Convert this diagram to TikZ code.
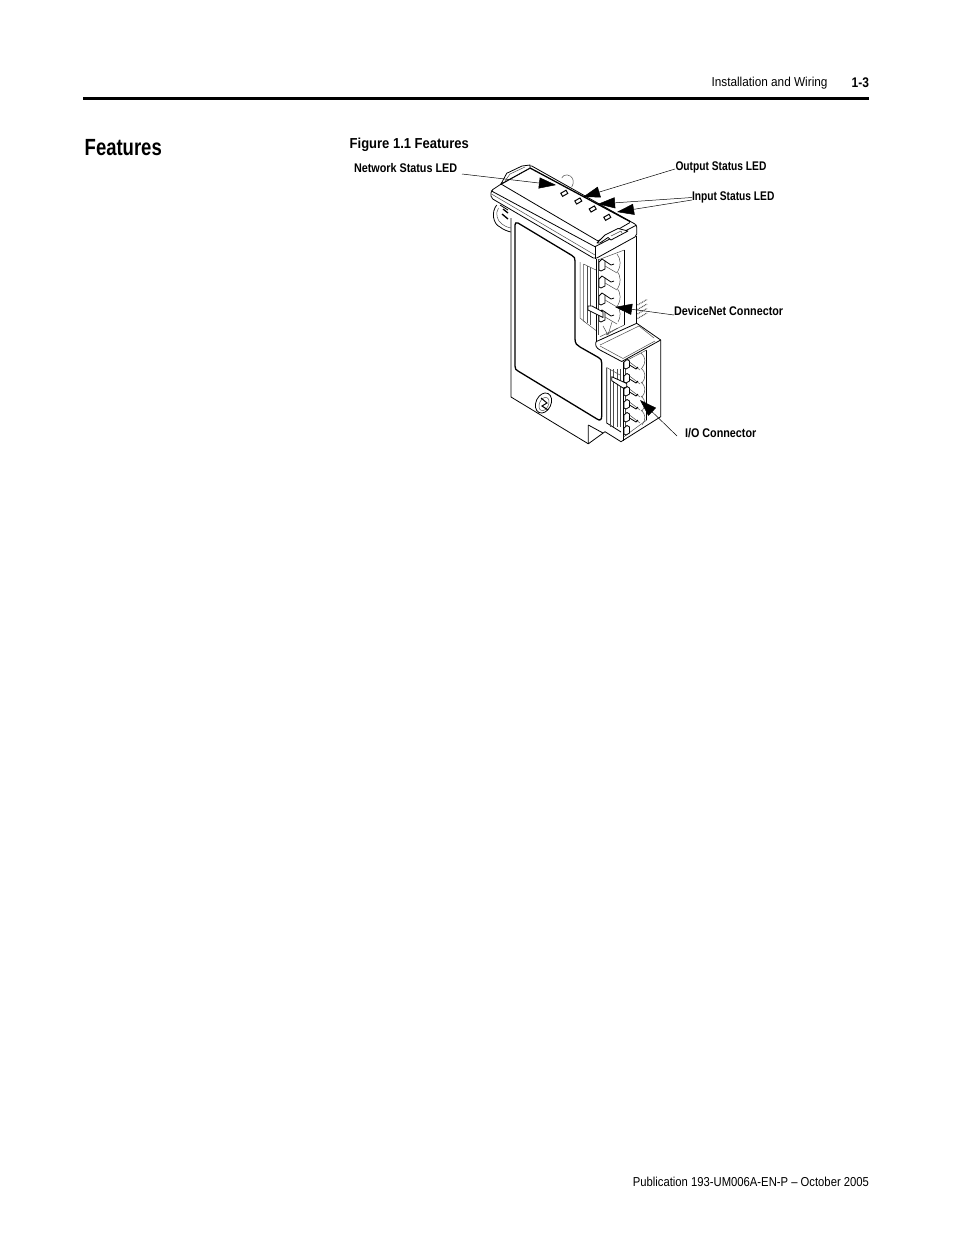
\documentclass[tikz,border=0pt]{standalone}
\usepackage{fontspec}
\setmainfont{Liberation Sans}
\newfontfamily\hdfont[FakeStretch=0.91]{Liberation Sans}
\newfontfamily\pubfont[FakeStretch=0.87]{Liberation Sans}
\newfontfamily\labfont[FakeStretch=0.86]{Liberation Sans}
\newfontfamily\labnarrow[FakeStretch=0.815]{Liberation Sans}
\newfontfamily\figfont[FakeStretch=0.90]{Liberation Sans}
\newfontfamily\ttlfont[FakeStretch=0.79]{Liberation Sans}
\usetikzlibrary{arrows.meta}
\tikzset{
 txt/.style={inner sep=0pt,outer sep=0pt,font=\hdfont\fontsize{13}{15}\selectfont,text=black},
 lab/.style={inner sep=0pt,outer sep=0pt,font=\labfont\bfseries\fontsize{12.6}{14}\selectfont,text=black},
 labn/.style={inner sep=0pt,outer sep=0pt,font=\labnarrow\bfseries\fontsize{12.6}{14}\selectfont,text=black},
 leader/.style={line width=0.5pt,black},
 tipa/.style={-{Triangle[length=17bp,width=11bp]}},
 thn/.style={line width=0.5pt,black!70,line join=round},
 med/.style={line width=0.8pt,black,line join=round},
 thk/.style={line width=1.3pt,black,line join=round},
}
\begin{document}
\begin{tikzpicture}[x=1bp,y=-1bp]
\useasboundingbox (0,0) rectangle (954,1235);
\fill[white] (0,0) rectangle (954,1235);
% header
\node[txt,anchor=east] (hd) at (827.5,83) {Installation and Wiring};
\node[lab,anchor=east,font=\labfont\bfseries\fontsize{14}{15}\selectfont] (pg) at (869,83) {1-3};
\draw[line width=3bp] (83,98.5) -- (869,98.5);
\node[inner sep=0pt,anchor=west,font=\ttlfont\bfseries\fontsize{23.5}{26}\selectfont] (ft) at (84.5,148) {Features};
\node[inner sep=0pt,anchor=west,font=\figfont\bfseries\fontsize{14.5}{16}\selectfont] (fig) at (349.5,144.5) {Figure 1.1 Features};
\node[txt,anchor=east,font=\pubfont\fontsize{13}{15}\selectfont] (pub) at (869,1182) {Publication 193-UM006A-EN-P – October 2005};
% back knob and left ring
\draw[thn] (561.7,178) .. controls (563,174) and (571,173) .. (573,180) .. controls (573.5,183) and (573,185) .. (571.7,187);
\draw[med] (496.7,205) .. controls (491,212) and (493,224) .. (500,227) .. controls (503,229.5) and (507,231) .. (510.7,232);
\draw[thn] (498.5,208) .. controls (495,213) and (497,221) .. (502,224) .. controls (504,226) and (507,227) .. (510.7,228);
\draw[thk] (503,209) -- (508,213);
\draw[thk] (502,214) -- (508,219);
\draw[med] (500,205) -- (508,210);
% lid
\draw[med,fill=white,rounded corners=2pt] (491,190.7) -- (530,165) -- (636.7,225) -- (636.7,236) -- (595,259) -- (491,198) -- cycle;
\draw[med] (491,190.7) -- (595,246.7) -- (636.7,225);
\draw[thn] (491.5,194) -- (595,255);
\draw[med] (595,246.7) -- (595,259);
\draw[thk] (501,184) -- (530,168) -- (630,221.5);
\draw[med] (501,184) -- (598,241);
\draw[med] (598,241) -- (630,222.5);
% latches
\draw[med,fill=white] (501,184) -- (506.7,173.3) -- (522,166) -- (530,165) -- (530,168) -- cycle;
\draw[thn] (505,181) -- (510,174) -- (525,167);
\draw[med,fill=white] (597,243) -- (605,235) -- (618,228.5) -- (628,231) -- (611,240) -- (608,237.5) -- (600,243) -- cycle;
\draw[thn] (611,236) -- (621,231) -- (622,233);
% LEDs
\foreach \x/\y in {564.3/193.3,578.3/201,592.7/209,607.3/217.3}{
 \draw[line width=1pt,fill=white,rotate around={30:(\x,\y)}] (\x-3,\y-1.8) rectangle (\x+3,\y+1.8);
}
% body
\draw[med] (511,218) -- (511,397) -- (588.3,443.8);
\draw[thk] (515,225) .. controls (515,223) and (516,222) .. (518,223) -- (572,255.5) .. controls (574.5,257) and (575,258) .. (575,261) -- (575,339) .. controls (575,343) and (577,346) .. (580,347) -- (598.5,357.5) .. controls (601,359) and (601.7,360) .. (601.7,363) -- (601.7,416) .. controls (601.7,420) and (600,421) .. (597,419) -- (518,371) .. controls (516,370) and (515,369) .. (515,366) -- cycle;
\draw[med] (588.3,425) -- (588.3,443.8) -- (605,431.7);
\draw[med] (588.3,425) -- (603,433);
% lower screw
\draw[med,rotate around={-25:(543.5,403)}] (543.5,403) ellipse (7.5 and 10.5);
\draw[thn,rotate around={-25:(544,404)}] (544,404) ellipse (4.5 and 7);
\draw[line width=1pt] (541,398) -- (547,403) -- (542,406) -- (548,410);
% upper connector
\draw[thn] (580,262) -- (580,318) -- (585,322);
\draw[thn] (583.5,264) -- (583.5,321) -- (596.7,331);
\draw[thn] (587,266) -- (587,323);
\draw[thn] (590,268) -- (590,325);
\draw[thn] (583.5,264) -- (596,270);
\draw[med] (596.4,259) -- (596.4,341.7);
\draw[thn] (598.5,259) -- (598.5,335);
\draw[med] (636.7,236) -- (636.7,323.3);
\draw[med] (624.3,250) -- (624.3,325);
\draw[thn] (598,260) -- (624.3,250);
\draw[thn] (600,336.7) -- (624.3,325);
\foreach \y in {262,279,296,313}{
 \draw[med,fill=white] (599,\y) -- (602,\y-3) -- (605,\y-1) -- (605,\y+7) -- (601,\y+9) -- (599,\y+8) -- cycle;
 \draw[med] (605,\y-1) -- (611,\y+3) -- (614,\y+2);
 \draw[thn] (605,\y+4) -- (617,\y+11);
 \draw[thn] (617,\y-8) .. controls (621,\y-3) and (621,\y+4) .. (618,\y+9);
}
\draw[med,fill=white] (588,306) -- (588,310) -- (603,317.5) -- (603,312) -- (592,306) -- cycle;
\draw[thn] (603,326) -- (608,335) -- (612,322);
\draw[thn] (606,335) -- (618,328);
% pins behind
\foreach \y in {303.5,308,312.5,317}{\draw[line width=1.1bp,black!65,dash pattern=on 1bp off .8bp] (637.5,\y+1.5) -- (647,\y-4);}
% step to lower
\draw[med] (596,341.7) -- (636.7,323.3) -- (660.7,340) -- (660.7,416.7) -- (621,441.7);
\draw[thn] (600,345) -- (639,326) -- (654,338);
\draw[med] (596,341.7) .. controls (595,345) and (596,348) .. (600,350) -- (621.7,361.5) -- (660.7,340);
\draw[thn] (600,346) -- (623,358.5) -- (655,341);
\draw[med] (623.3,361.5) -- (623.3,441);
\draw[med] (605,431.7) -- (621,441.7);
% lower connector
\draw[med] (606.7,367.5) -- (606.7,423) -- (621,432);
\draw[thn] (606.7,367.5) -- (620,375);
\foreach \x in {610,613,617,620}{\draw[thn] (\x,369) -- (\x,427);}
\draw[thn] (625.7,361) -- (625.7,436);
\draw[thk] (646.7,350) -- (646.7,420);
\draw[thn] (623.5,362) -- (646.7,350);
\draw[thn] (623.5,437) -- (646.7,420);
\foreach \y in {362,376,389,402,415,428}{
 \draw[med,fill=white] (624,\y) -- (627,\y-2.5) -- (629.5,\y-1) -- (629.5,\y+5) -- (626,\y+7) -- (624,\y+6) -- cycle;
}
\foreach \y in {362,376,389,402,415}{
 \draw[thn] (629.5,\y) -- (640,\y+8);
 \draw[med] (629.5,\y+3) -- (636,\y+7) -- (638,\y+5);
}
\foreach \y in {353,368,382,396,410}{
 \draw[thn] (641,\y) .. controls (646,\y+4) and (646,\y+10) .. (642,\y+15);
}
\draw[med,fill=white] (611.7,376.7) -- (611.7,380.7) -- (623,388) -- (626.7,387) -- (626.7,383.5) -- cycle;
% labels
\node[lab,anchor=west] (nw) at (354,168.5) {Network Status LED};
\node[labn,anchor=west] (ou) at (675.5,167) {Output Status LED};
\node[labn,anchor=west] (in) at (692,197) {Input Status LED};
\node[lab,anchor=west] (dn) at (674,311.5) {DeviceNet Connector};
\node[lab,anchor=west] (io) at (685,433.5) {I/O Connector};
\coordinate (nwe) at (462,174);
\coordinate (oue) at (675,169);
\coordinate (ine) at (692,197.5);
\coordinate (ine2) at (692,200);
\coordinate (dne) at (674,315);
\coordinate (ioe) at (677,436);
\coordinate (a1) at (556,185);
\coordinate (a2) at (583,197);
\coordinate (a3) at (598,204);
\coordinate (a4) at (617,212);
\coordinate (a5) at (615,307);
\coordinate (a6) at (640,400);
\draw[leader,tipa] (nwe) -- (a1);
\draw[leader,tipa] (oue) -- (a2);
\draw[leader,tipa] (ine) -- (a3);
\draw[leader,tipa] (ine2) -- (a4);
\draw[leader,tipa] (dne) -- (a5);
\draw[leader,tipa] (ioe) -- (a6);
\end{tikzpicture}
\end{document}
